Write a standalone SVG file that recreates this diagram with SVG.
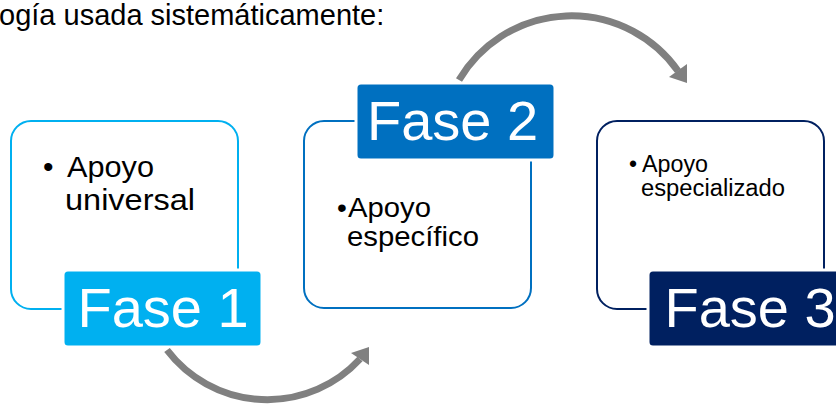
<svg xmlns="http://www.w3.org/2000/svg" width="836" height="405" viewBox="0 0 836 405">
<style>
.t{font-family:"Liberation Sans",Arial,sans-serif;fill:#000}
.lbl{font-family:"Liberation Sans",Arial,sans-serif;fill:#fff;font-size:56px}
.box{fill:#fff;stroke-width:2}
.tag{stroke:#fff;stroke-width:3}
.arc{fill:none;stroke:#808080;stroke-width:7}
.head{fill:#808080}
</style>
<rect width="836" height="405" fill="#fff"/>
<text class="t" x="-1" y="25" font-size="29">ogía usada sistemáticamente:</text>
<g id="fase1">
<rect class="box" x="11" y="121" width="227" height="188" rx="20" stroke="#00B0F0"/>
<text class="t" x="43" y="177" font-size="30">•</text>
<text class="t" x="67" y="177" font-size="30" textLength="87" lengthAdjust="spacingAndGlyphs">Apoyo</text>
<text class="t" x="65" y="210" font-size="30" textLength="130" lengthAdjust="spacingAndGlyphs">universal</text>
<rect class="tag" x="63" y="270" width="199" height="77" rx="5" fill="#00B0F0"/>
<text class="lbl" x="77.5" y="327">Fase 1</text>
</g>
<g id="fase2">
<rect class="box" x="304" y="121" width="227" height="187" rx="20" stroke="#0070C0"/>
<text class="t" x="337" y="217" font-size="28">•</text>
<text class="t" x="348" y="217" font-size="28" textLength="83" lengthAdjust="spacingAndGlyphs">Apoyo</text>
<text class="t" x="347" y="246" font-size="28" textLength="132" lengthAdjust="spacingAndGlyphs">específico</text>
<rect class="tag" x="356" y="83" width="199" height="77" rx="5" fill="#0070C0"/>
<text class="lbl" x="367" y="140">Fase 2</text>
</g>
<g id="fase3">
<rect class="box" x="597" y="121" width="227" height="188" rx="20" stroke="#002060"/>
<text class="t" x="629" y="172" font-size="23">•</text>
<text class="t" x="642" y="172" font-size="23" textLength="66" lengthAdjust="spacingAndGlyphs">Apoyo</text>
<text class="t" x="641" y="196" font-size="23" textLength="144" lengthAdjust="spacingAndGlyphs">especializado</text>
<rect class="tag" x="648" y="270" width="200" height="77" rx="5" fill="#002060"/>
<text class="lbl" x="664.5" y="327">Fase 3</text>
</g>
<g id="connectors">
<path class="arc" d="M 167 350 A 126 126 0 0 0 360 359"/>
<polygon class="head" points="351,353 369,347 369,365"/>
<path class="arc" d="M 459 80 A 130.5 130.5 0 0 1 678 71"/>
<polygon class="head" points="669,77 687,64 687,83"/>
</g>
</svg>
